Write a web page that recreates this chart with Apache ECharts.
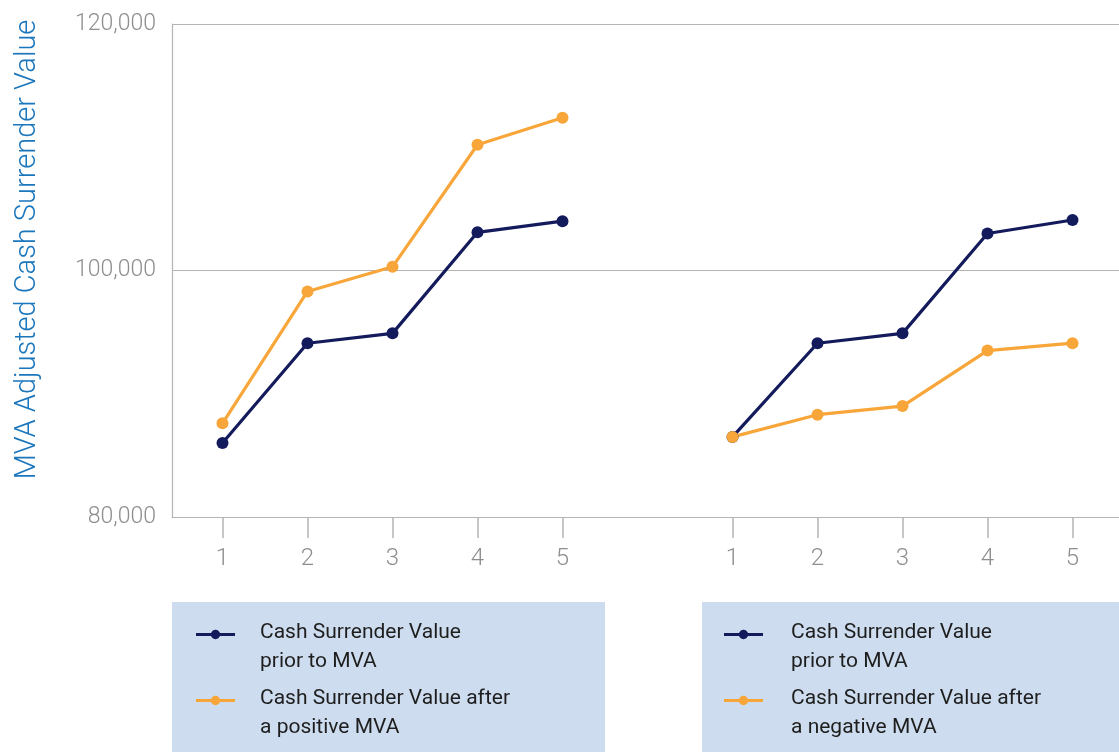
<!DOCTYPE html>
<html>
<head>
<meta charset="utf-8">
<script src="https://cdn.jsdelivr.net/npm/echarts@6/dist/echarts.min.js"></script>
<style>
  html, body { margin: 0; padding: 0; background: #ffffff; }
  #chart { width: 1119px; height: 752px; }
</style>
</head>
<body>
<div id="chart"></div>
<script>
// ---- data ----
const categories = ['1', '2', '3', '4', '5', '', '1', '2', '3', '4', '5'];
const yTicks = [80000, 100000, 120000];
const leftPrior = [86000, 94100, 94900, 103100, 104000];
const leftPositive = [87600, 98300, 100300, 110200, 112400];
const rightPrior = [86500, 94100, 94900, 103000, 104100];
const rightNegative = [86500, 88300, 89000, 93500, 94100];

const namePrior = 'Cash Surrender Value\nprior to MVA';
const namePositive = 'Cash Surrender Value after\na positive MVA';
const nameNegative = 'Cash Surrender Value after\na negative MVA';

const NAVY = '#141b5c';
const ORANGE = '#f8a63a';
const GREY = '#b4b4b4';
const LABEL = '#8e8e8e';
const FONT = 'Roboto, "Liberation Sans", sans-serif';

// legend marker: line with a dot, sitting on the first text line of a two-line entry
const LEGEND_ICON = 'path://M0 15 L39 15 L39 18 L0 18 Z M24.2 16.5 A4.7 4.7 0 1 1 14.8 16.5 A4.7 4.7 0 1 1 24.2 16.5 Z M0 0 L0.01 0 L0 0 Z M0 58 L0.01 58 L0 58 Z';

const blank = new Array(6).fill(null);
const leftPad = arr => arr.concat(blank);
const rightPad = arr => blank.concat(arr);

function lineSeries(name, data, color) {
  return {
    type: 'line',
    name: name,
    xAxisIndex: 1,
    yAxisIndex: 1,
    data: data,
    symbol: 'circle',
    symbolSize: 12,
    connectNulls: false,
    lineStyle: { color: color, width: 3.2 },
    itemStyle: { color: color },
    emphasis: { disabled: true },
    z: 3
  };
}

function legendCfg(left, data, padLeft) {
  return {
    orient: 'vertical',
    left: left,
    top: 618,
    height: 130,
    padding: 0,
    icon: LEGEND_ICON,
    itemWidth: 39,
    itemHeight: 58,
    itemGap: 8,
    itemStyle: { borderWidth: 0 },
    data: data,
    textStyle: {
      fontFamily: FONT,
      fontSize: 21,
      color: '#1e1e1e',
      lineHeight: 29,
      padding: [0, 0, 0, padLeft]
    }
  };
}

const chart = echarts.init(document.getElementById('chart'), null, { renderer: 'canvas' });

chart.setOption({
  animation: false,
  backgroundColor: '#ffffff',
  graphic: [
    { type: 'rect', z: -10, shape: { x: 172, y: 602, width: 433, height: 150 }, style: { fill: '#cddcee' } },
    { type: 'rect', z: -10, shape: { x: 702, y: 602, width: 417, height: 150 }, style: { fill: '#cddcee' } }
  ],
  legend: [
    legendCfg(196, [namePrior, namePositive], 20),
    legendCfg(724, [namePrior, nameNegative], 23)
  ],
  grid: [
    { left: 172, right: 0, top: 24, bottom: 235, containLabel: false, outerBoundsMode: 'none' },
    { left: 180, right: 4, top: 24, bottom: 235, containLabel: false, outerBoundsMode: 'none' }
  ],
  xAxis: [
    {
      type: 'value', gridIndex: 0, min: 0, max: 1,
      axisLine: { show: true, onZero: false, lineStyle: { color: GREY, width: 1.2 } },
      axisTick: { show: false }, axisLabel: { show: false }, splitLine: { show: false }
    },
    {
      type: 'category', gridIndex: 1, data: categories, boundaryGap: true,
      axisLine: { show: false },
      axisTick: {
        show: true, alignWithLabel: true, length: 21,
        interval: (i, v) => v !== '',
        lineStyle: { color: GREY, width: 1.5 }
      },
      axisLabel: {
        interval: 0, margin: 30, color: LABEL,
        fontFamily: FONT, fontWeight: 300, fontSize: 24
      },
      splitLine: { show: false }
    }
  ],
  yAxis: [
    {
      type: 'value', gridIndex: 0, min: yTicks[0], max: yTicks[yTicks.length - 1], interval: yTicks[1] - yTicks[0],
      name: 'MVA Adjusted Cash Surrender Value',
      nameLocation: 'middle',
      nameRotate: 90,
      nameGap: 130,
      nameTextStyle: {
        fontFamily: FONT,
        fontWeight: 300,
        fontSize: 29,
        color: '#1b76bc',
        padding: [0, 0, 0, 42]
      },
      axisLine: { show: true, lineStyle: { color: GREY, width: 1.2 } },
      axisTick: { show: false },
      axisLabel: { margin: 16, color: LABEL, fontFamily: FONT, fontWeight: 300, fontSize: 23 },
      splitLine: { show: true, lineStyle: { color: GREY, width: 1.2 } }
    },
    {
      type: 'value', gridIndex: 1, min: yTicks[0], max: yTicks[yTicks.length - 1], interval: yTicks[1] - yTicks[0],
      axisLine: { show: false }, axisTick: { show: false }, axisLabel: { show: false }, splitLine: { show: false }
    }
  ],
  series: [
    lineSeries(namePrior, leftPad(leftPrior), NAVY),
    lineSeries(namePositive, leftPad(leftPositive), ORANGE),
    lineSeries(namePrior, rightPad(rightPrior), NAVY),
    lineSeries(nameNegative, rightPad(rightNegative), ORANGE)
  ]
});
</script>
</body>
</html>
